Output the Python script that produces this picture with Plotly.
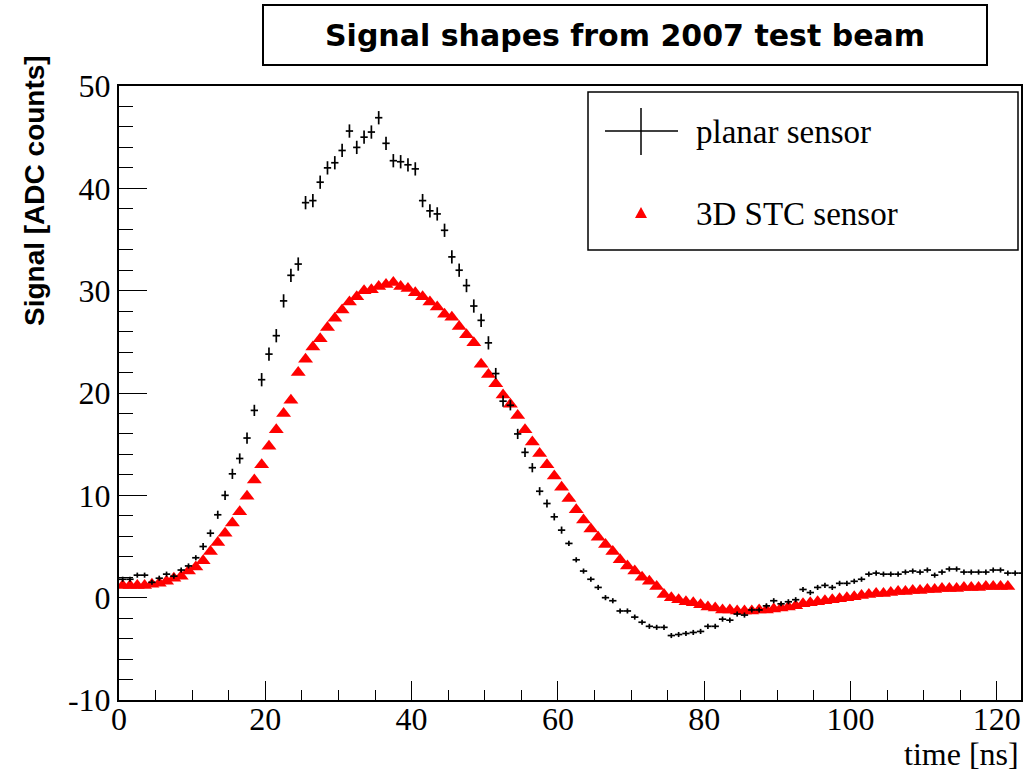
import plotly.graph_objects as go

# ---------------- data ----------------
time_ns = [k + 0.5 for k in range(124)]          # 1 ns bins, bin centres

planar_signal = [
    1.8, 1.8, 2.2, 2.2, 1.5, 1.9, 2.3, 2.1, 2.7, 3.1,
    3.9, 5.0, 6.3, 8.1, 10.0, 12.1, 13.6, 15.6, 18.3, 21.3,
    23.8, 25.6, 29.0, 31.5, 32.6, 38.6, 38.8, 40.6, 42.0, 42.5,
    43.7, 45.6, 44.0, 45.0, 45.5, 46.9, 44.4, 42.7, 42.6, 42.3,
    41.9, 38.8, 37.8, 37.5, 35.9, 33.3, 32.0, 30.5, 28.5, 27.1,
    24.9, 21.9, 19.2, 18.8, 16.0, 14.2, 12.7, 10.4, 9.2, 7.9,
    6.6, 5.3, 3.7, 2.6, 1.8, 1.0, 0.0, -0.3, -1.3, -1.3,
    -1.9, -2.4, -2.8, -2.9, -2.9, -3.7, -3.6, -3.5, -3.4, -3.3,
    -2.8, -2.8, -2.1, -2.2, -1.6, -1.7, -1.2, -1.2, -0.8, -0.3,
    -0.6, -0.4, -0.2, 0.8, 0.5, 1.0, 1.2, 1.0, 1.4, 1.4,
    1.6, 1.8, 2.3, 2.4, 2.3, 2.3, 2.3, 2.5, 2.6, 2.5,
    2.7, 2.2, 2.5, 2.8, 2.8, 2.5, 2.5, 2.5, 2.5, 2.7,
    2.7, 2.4, 2.4, 2.4,
]

planar_err = [
    0.25, 0.25, 0.25, 0.25, 0.25, 0.25, 0.25, 0.25, 0.25, 0.25,
    0.25, 0.35, 0.35, 0.4, 0.45, 0.5, 0.5, 0.55, 0.55, 0.65,
    0.65, 0.65, 0.65, 0.65, 0.65, 0.65, 0.65, 0.65, 0.65, 0.65,
    0.65, 0.65, 0.65, 0.65, 0.65, 0.65, 0.65, 0.65, 0.65, 0.65,
    0.65, 0.65, 0.65, 0.65, 0.65, 0.65, 0.65, 0.65, 0.65, 0.65,
    0.65, 0.55, 0.55, 0.5, 0.5, 0.45, 0.45, 0.4, 0.4, 0.35,
    0.35, 0.25, 0.25, 0.25, 0.25, 0.25, 0.25, 0.25, 0.25, 0.25,
    0.25, 0.25, 0.25, 0.25, 0.25, 0.25, 0.25, 0.25, 0.25, 0.25,
    0.25, 0.25, 0.25, 0.25, 0.25, 0.25, 0.25, 0.25, 0.25, 0.25,
    0.25, 0.25, 0.25, 0.25, 0.25, 0.25, 0.25, 0.25, 0.25, 0.25,
    0.25, 0.25, 0.25, 0.25, 0.25, 0.25, 0.25, 0.25, 0.25, 0.25,
    0.25, 0.25, 0.25, 0.25, 0.25, 0.25, 0.25, 0.25, 0.25, 0.25,
    0.25, 0.25, 0.25, 0.25,
]

stc_time_ns = time_ns[:122]
stc_signal = [
    1.2, 1.2, 1.2, 1.2, 1.3, 1.4, 1.6, 1.9, 2.1, 2.6,
    3.0, 3.6, 4.5, 5.4, 6.3, 7.3, 8.4, 9.9, 11.5, 13.0,
    14.8, 16.4, 18.0, 19.3, 22.0, 23.3, 24.5, 25.3, 26.4, 27.3,
    28.1, 28.9, 29.4, 30.0, 30.1, 30.4, 30.6, 30.8, 30.4, 30.2,
    29.8, 29.4, 28.9, 28.4, 27.7, 27.4, 26.5, 25.7, 24.9, 22.8,
    21.8, 20.9, 19.8, 18.9, 17.8, 16.4, 15.2, 14.1, 13.0, 11.9,
    10.8, 9.7, 8.6, 7.6, 6.7, 5.9, 5.2, 4.5, 3.7, 3.1,
    2.6, 2.0, 1.6, 1.1, 0.3, 0.0, -0.2, -0.4, -0.5, -0.7,
    -0.9, -1.0, -1.2, -1.2, -1.3, -1.3, -1.3, -1.2, -1.2, -1.1,
    -1.0, -0.9, -0.8, -0.6, -0.5, -0.4, -0.3, -0.2, -0.1, 0.0,
    0.1, 0.2, 0.3, 0.4, 0.4, 0.5, 0.6, 0.6, 0.7, 0.7,
    0.8, 0.8, 0.9, 0.9, 0.9, 1.0, 1.0, 1.0, 1.1, 1.1,
    1.1, 1.1,
]

x_tickvals = [0, 20, 40, 60, 80, 100, 120]
x_ticktext = ["0", "20", "40", "60", "80", "100", "120"]
y_tickvals = [-10, 0, 10, 20, 30, 40, 50]
y_ticktext = ["-10", "0", "10", "20", "30", "40", "50"]

title_text = "Signal shapes from 2007 test beam"
x_title = "time [ns]"
y_title = "Signal [ADC counts]"
legend_labels = ["planar sensor", "3D STC sensor"]

# ---------------- figure ----------------
SERIF = "Liberation Serif, Times New Roman, serif"
SANS = "Liberation Sans, Arial, sans-serif"

fig = go.Figure()

fig.add_trace(go.Scatter(
    x=stc_time_ns, y=stc_signal, mode="markers", name=legend_labels[1],
    marker=dict(symbol="triangle-up", size=13, color="#ff0000", line=dict(width=0)),
    showlegend=False,
))

fig.add_trace(go.Scatter(
    x=time_ns, y=planar_signal, mode="markers", name=legend_labels[0],
    marker=dict(size=1, color="black"),
    error_x=dict(type="constant", value=0.5, width=0, thickness=1.7, color="black"),
    error_y=dict(type="data", array=planar_err, width=0, thickness=1.7, color="black"),
    showlegend=False,
))

L, R, T, B = 119, 1021, 86, 700
W, H = R - L, B - T

def px(X):
    return (X - L) / W

def py(Y):
    return (B - Y) / H

shapes = [
    # title box
    dict(type="rect", xref="paper", yref="paper",
         x0=px(263), x1=px(987), y0=py(65), y1=py(5),
         line=dict(color="black", width=2), fillcolor="white", layer="above"),
    # legend box
    dict(type="rect", xref="paper", yref="paper",
         x0=px(588), x1=px(1018), y0=py(250), y1=py(92),
         line=dict(color="black", width=1.5), fillcolor="white", layer="above"),
    # legend cross symbol
    dict(type="line", xref="paper", yref="paper",
         x0=px(605), x1=px(678), y0=py(131), y1=py(131),
         line=dict(color="black", width=1.5), layer="above"),
    dict(type="line", xref="paper", yref="paper",
         x0=px(641), x1=px(641), y0=py(108), y1=py(155),
         line=dict(color="black", width=1.5), layer="above"),
    # legend triangle symbol
    dict(type="path", xref="paper", yref="paper",
         path=f"M {px(641)},{py(207)} L {px(635)},{py(218)} L {px(647)},{py(218)} Z",
         fillcolor="#ff0000", line=dict(width=0), layer="above"),
]

annotations = [
    dict(text=title_text, xref="paper", yref="paper", x=px(625), y=py(36),
         xanchor="center", yanchor="middle", showarrow=False,
         font=dict(family="DejaVu Sans", size=30, color="black", weight="bold")),
    dict(text=legend_labels[0], xref="paper", yref="paper", x=px(694), y=py(132),
         xanchor="left", yanchor="middle", showarrow=False,
         font=dict(family=SERIF, size=33, color="black")),
    dict(text=legend_labels[1], xref="paper", yref="paper", x=px(694), y=py(214),
         xanchor="left", yanchor="middle", showarrow=False,
         font=dict(family=SERIF, size=33, color="black")),
    dict(text=x_title, xref="paper", yref="paper", x=1.0, y=py(754),
         xanchor="right", yanchor="middle", showarrow=False,
         font=dict(family=SERIF, size=32, color="black")),
    dict(text=y_title, xref="paper", yref="paper", x=px(35), y=py(191),
         xanchor="center", yanchor="middle", showarrow=False, textangle=-90,
         font=dict(family=SANS, size=28, color="black", weight="bold")),
]

fig.update_layout(
    width=1032, height=773,
    margin=dict(l=L, r=1032 - R, t=T, b=773 - B, autoexpand=False),
    paper_bgcolor="white", plot_bgcolor="white",
    showlegend=False,
    shapes=shapes, annotations=annotations,
    xaxis=dict(
        range=[0, 123.3], tickmode="array", tickvals=x_tickvals, ticktext=x_ticktext,
        ticks="inside", ticklen=19, tickwidth=1.3, tickcolor="black",
        ticklabelstandoff=-10,
        minor=dict(ticks="inside", ticklen=10, dtick=5, tick0=0, tickcolor="black", tickwidth=1.2),
        showline=True, linecolor="black", linewidth=2, mirror=True,
        showgrid=False, zeroline=False,
        tickfont=dict(family=SERIF, size=32, color="black"),
    ),
    yaxis=dict(
        range=[-10, 50], tickmode="array", tickvals=y_tickvals, ticktext=y_ticktext,
        ticks="inside", ticklen=28, tickwidth=1.3, tickcolor="black",
        minor=dict(ticks="inside", ticklen=14, dtick=2, tick0=0, tickcolor="black", tickwidth=1.2),
        showline=True, linecolor="black", linewidth=2, mirror=True,
        showgrid=False, zeroline=False,
        tickfont=dict(family=SERIF, size=32, color="black"),
    ),
)

fig.write_html("out.html")
